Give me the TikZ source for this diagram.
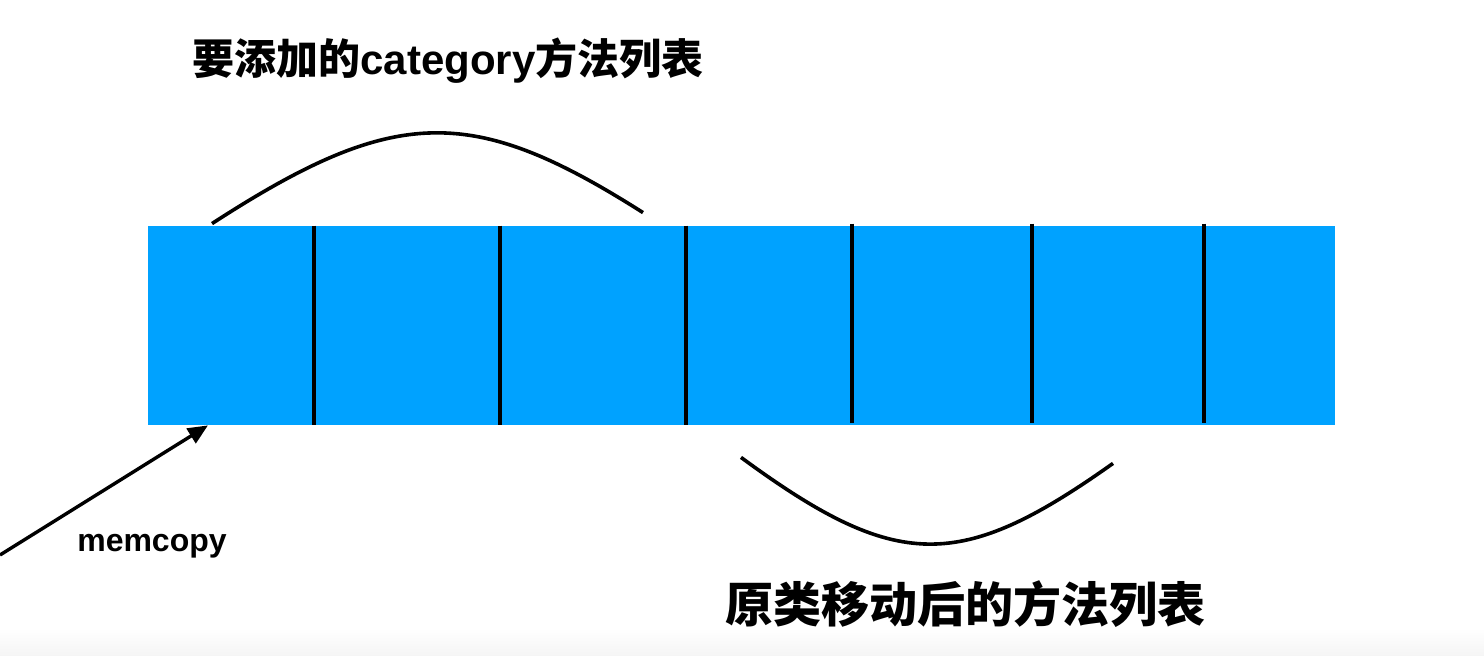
\documentclass[tikz,border=0pt]{standalone}
\usepackage{fontspec}
\setsansfont{Liberation Sans}[BoldFont={Liberation Sans Bold}]
\newfontfamily\cjk{Noto Sans CJK SC}
\usepackage{tikz}
\usetikzlibrary{calc,arrows.meta,positioning}
\definecolor{ListBlue}{RGB}{0,162,255}

\begin{document}
\begin{tikzpicture}[x=0.5pt,y=-0.5pt]

  % Styles
  \tikzstyle{cell}=[fill=ListBlue,inner sep=0pt,minimum height=99.5pt]
  \tikzstyle{divider}=[line width=2pt]
  \tikzstyle{arc}=[line width=1.8pt]
  \tikzstyle{to}=[-{Triangle[length=10pt,width=8.5pt]},line width=1.7pt]
  \tikzstyle{title}=[inner sep=0pt,font=\fontsize{21pt}{24pt}\selectfont]

  % ===========================================================================

  \useasboundingbox (0,0) rectangle (1484,656);
  \shade[top color=white,bottom color=black!4] (0,628) rectangle (1484,656);

  % Draw list cells
  \foreach \l/\r [count=\i] in {148/314,314/500,500/686,686/852,852/1032,1032/1204,1204/1335}
    \node[cell,minimum width={(\r-\l)*0.5pt}] (c\i) at ({(\l+\r)/2},325.5) {};

  % Draw dividers
  \foreach \i in {1,2,3}
    \draw[divider] (c\i.north east) -- (c\i.south east);
  \foreach \i in {4,5,6}
    \draw[divider] ([yshift=1pt]c\i.north east) -- ([yshift=1pt]c\i.south east);

  % Draw labels
  \node[title] (top) at (448,61) {\cjk\bfseries 要添加的{\sffamily\bfseries category}方法列表};
  \node[title,font=\fontsize{24pt}{27pt}\selectfont] (bottom) at (965,604) {\cjk\bfseries 原类移动后的方法列表};
  \node[inner sep=0pt,font=\sffamily\bfseries\fontsize{16pt}{19pt}\selectfont] (memcopy) at (152,546) {memcopy};

  % Draw arcs and arrow
  \coordinate (src) at (0,555);
  \coordinate (topstart) at ([shift={(-19,-2)}]c1.north);
  \coordinate (topend) at ([shift={(50,-13)}]c3.north);
  \coordinate (botstart) at ([shift={(-28,32)}]c4.south);
  \coordinate (botend) at ([shift={(-5,38)}]c6.south);
  \draw[arc] (topstart) .. controls (395,105) and (472,104) .. (topend);
  \draw[arc] (botstart) .. controls (897,572) and (960,572) .. (botend);
  \draw[to] (src) -- ([xshift=-11.5pt]c1.south);

\end{tikzpicture}
\end{document}
